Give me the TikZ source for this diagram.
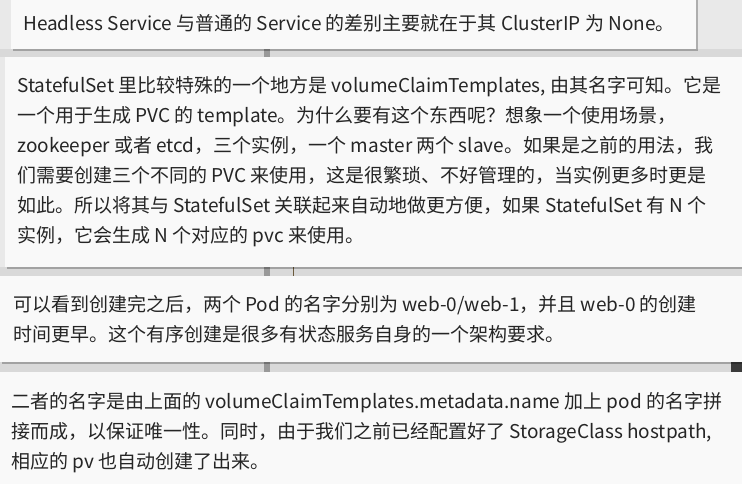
\documentclass[tikz,border=0pt]{standalone}
\usepackage{fontspec}
\setmainfont{Noto Sans CJK SC}
\usetikzlibrary{positioning}
\usetikzlibrary{shadows}
\definecolor{pagegray}{HTML}{E9E9E9}
\definecolor{gapgray}{HTML}{D9D9D9}
\definecolor{cardfill}{HTML}{F9F9F9}
\definecolor{inkgray}{HTML}{252525}
\definecolor{bargray}{HTML}{999999}
\definecolor{markbrown}{HTML}{6B5A3C}

\begin{document}
\begin{tikzpicture}[x=1pt, y=-1pt,
    card/.style = {fill=cardfill, anchor=north west, inner sep=0pt,
        drop shadow={shadow xshift=1.5pt, shadow yshift=-2pt, opacity=.25, fill=black}},
    bar/.style = {fill=bargray, anchor=north west, inner sep=0pt, minimum width=6pt},
    txt/.style = {anchor=base west, inner sep=0pt, text=inkgray,
        font=\fontsize{19}{30}\selectfont}]
    \useasboundingbox (0,0) rectangle (742,483);
    \clip (0,0) rectangle (742,483);
    \fill[pagegray] (0,0) rectangle (742,483);
    % gaps between the cards
    \fill[gapgray] (0,49) rectangle (742,57);
    \fill[gapgray] (0,267) rectangle (742,276);
    \fill[gapgray] (0,362) rectangle (742,372);
    \node[bar, minimum height=8pt] (bar1) at (264,49) {};
    \node[bar, minimum height=9pt] (bar2) at (264,267) {};
    \node[bar, minimum height=10pt] (bar3) at (264,362) {};
    \node[bar, fill=inkgray!90, minimum width=11pt, minimum height=10pt] (bar4) at (731,362) {};
    \node[bar, fill=markbrown, minimum width=1.5pt, minimum height=9pt] (mark) at (292.5,267) {};

    % cards
    \node[card, minimum width=685pt, minimum height=60pt] (headless) at (11,-11) {};
    \node[card, minimum width=740pt, minimum height=210pt] (claim) at (5,57) {};
    \node[card, minimum width=745pt, minimum height=86pt] (order) at (0,276) {};
    \node[card, minimum width=745pt, minimum height=120pt] (names) at (0,372) {};

    % texts, one node per line
    \node[txt] (headless1) at (23,30) {Headless Service 与普通的 Service 的差别主要就在于其 ClusterIP 为 None。};

    \node[txt] (claim1) at (17,92) {StatefulSet 里比较特殊的一个地方是 volumeClaimTemplates, 由其名字可知。它是};
    \node[txt] (claim2) at ([yshift=-30pt]claim1.base west) {一个用于生成 PVC 的 template。为什么要有这个东西呢？想象一个使用场景，};
    \node[txt] (claim3) at ([yshift=-30pt]claim2.base west) {zookeeper 或者 etcd，三个实例，一个 master 两个 slave。如果是之前的用法，我};
    \node[txt] (claim4) at ([yshift=-30pt]claim3.base west) {们需要创建三个不同的 PVC 来使用，这是很繁琐、不好管理的，当实例更多时更是};
    \node[txt] (claim5) at ([yshift=-30pt]claim4.base west) {如此。所以将其与 StatefulSet 关联起来自动地做更方便，如果 StatefulSet 有 N 个};
    \node[txt] (claim6) at ([yshift=-30pt]claim5.base west) {实例，它会生成 N 个对应的 pvc 来使用。};

    \node[txt] (order1) at (13,311) {可以看到创建完之后，两个 Pod 的名字分别为 web-0/web-1，并且 web-0 的创建};
    \node[txt] (order2) at ([yshift=-30pt]order1.base west) {时间更早。这个有序创建是很多有状态服务自身的一个架构要求。};

    \node[txt] (names1) at (11,408) {二者的名字是由上面的 volumeClaimTemplates.metadata.name 加上 pod 的名字拼};
    \node[txt] (names2) at ([yshift=-30pt]names1.base west) {接而成，以保证唯一性。同时，由于我们之前已经配置好了 StorageClass hostpath,};
    \node[txt] (names3) at ([yshift=-30pt]names2.base west) {相应的 pv 也自动创建了出来。};
\end{tikzpicture}
\end{document}
